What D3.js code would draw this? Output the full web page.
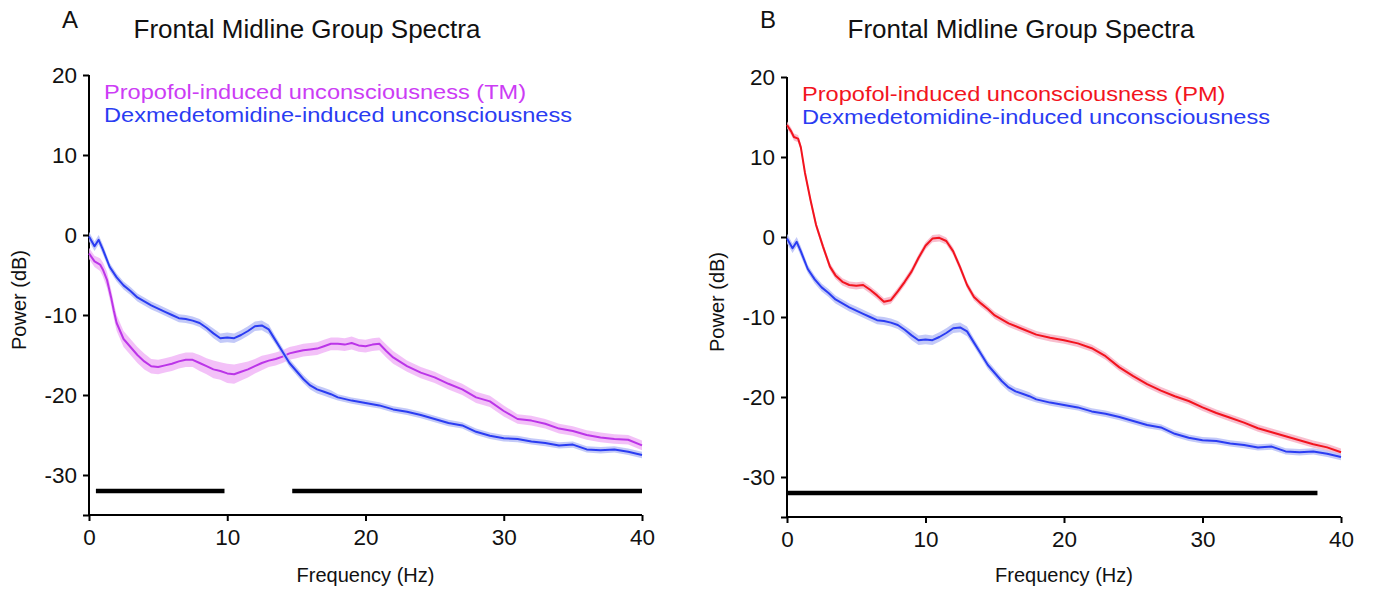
<!DOCTYPE html>
<html>
<head>
<meta charset="utf-8">
<script src="https://cdn.jsdelivr.net/npm/d3@7"></script>
<style>
  body { margin: 0; background: #fff; }
  svg text { font-family: "Liberation Sans", Arial, Helvetica, sans-serif; }
</style>
</head>
<body>
<div id="chart"></div>
<script>
const width = 1373;
const height = 589;

// Dexmedetomidine group spectrum (same curve in both panels)
const dexFreq = [0, 0.4, 0.7, 1, 1.5, 2, 2.5, 3, 3.5, 4, 4.5, 5, 5.5, 6, 6.5, 7, 7.5, 8, 8.5, 9, 9.5, 10, 10.5, 11, 11.5, 12, 12.5, 13, 13.5, 14, 14.5, 15, 15.5, 16, 16.5, 17, 17.5, 18, 19, 20, 21, 22, 23, 24, 25, 26, 27, 28, 29, 30, 31, 32, 33, 34, 35, 36, 37, 38, 39, 40];
const dexPower = [-0.2, -1.4, -0.6, -1.8, -4.0, -5.3, -6.3, -7.0, -7.8, -8.3, -8.8, -9.2, -9.6, -10.0, -10.4, -10.5, -10.7, -11.0, -11.6, -12.3, -12.9, -12.8, -12.9, -12.5, -12.0, -11.4, -11.3, -11.8, -13.2, -14.6, -16.0, -17.0, -18.0, -18.8, -19.3, -19.6, -19.9, -20.3, -20.7, -21.0, -21.3, -21.8, -22.1, -22.5, -23.0, -23.5, -23.8, -24.6, -25.1, -25.4, -25.5, -25.8, -26.0, -26.3, -26.2, -26.8, -26.9, -26.8, -27.1, -27.5];
const dexSem = [0.6, 0.6, 0.6, 0.6, 0.5, 0.5, 0.5, 0.5, 0.5, 0.5, 0.5, 0.5, 0.5, 0.5, 0.5, 0.5, 0.5, 0.5, 0.5, 0.6, 0.6, 0.6, 0.6, 0.6, 0.6, 0.6, 0.6, 0.6, 0.5, 0.5, 0.5, 0.5, 0.5, 0.5, 0.5, 0.5, 0.5, 0.4, 0.4, 0.4, 0.4, 0.4, 0.4, 0.4, 0.4, 0.4, 0.4, 0.4, 0.4, 0.4, 0.4, 0.4, 0.4, 0.4, 0.4, 0.4, 0.4, 0.4, 0.4, 0.4];

// Propofol, TM group (panel A)
const tmFreq = [0, 0.4, 0.8, 1, 1.3, 1.6, 1.8, 2, 2.5, 3, 3.5, 4, 4.5, 5, 5.5, 6, 6.5, 7, 7.5, 8, 8.5, 9, 9.5, 10, 10.5, 11, 11.5, 12, 12.5, 13, 13.5, 14, 14.5, 15, 15.5, 16, 16.5, 17, 17.5, 18, 18.5, 19, 19.5, 20, 20.5, 21, 21.5, 22, 23, 24, 25, 26, 27, 28, 29, 30, 31, 32, 33, 34, 35, 36, 37, 38, 39, 40];
const tmPower = [-2.3, -3.3, -3.7, -4.3, -5.6, -7.8, -9.5, -11.0, -13.0, -14.0, -15.0, -15.8, -16.4, -16.5, -16.3, -16.1, -15.8, -15.6, -15.6, -16.0, -16.4, -16.8, -17.0, -17.3, -17.4, -17.1, -16.8, -16.4, -16.0, -15.7, -15.5, -15.2, -14.8, -14.6, -14.4, -14.3, -14.2, -13.9, -13.6, -13.6, -13.7, -13.5, -13.8, -13.9, -13.7, -13.6, -14.5, -15.3, -16.4, -17.2, -17.8, -18.6, -19.3, -20.3, -20.8, -22.0, -23.0, -23.2, -23.6, -24.2, -24.5, -25.0, -25.3, -25.5, -25.6, -26.3];
const tmSem = [0.7, 0.7, 0.8, 0.9, 1.0, 1.0, 1.0, 1.0, 1.0, 1.0, 1.0, 1.0, 0.9, 0.9, 0.9, 0.9, 0.9, 0.9, 0.9, 1.0, 1.0, 1.1, 1.1, 1.2, 1.2, 1.1, 1.0, 0.9, 0.9, 0.8, 0.8, 0.8, 0.8, 0.8, 0.8, 0.8, 0.8, 0.8, 0.8, 0.8, 0.8, 0.8, 0.8, 0.8, 0.8, 0.8, 0.8, 0.8, 0.7, 0.7, 0.7, 0.7, 0.7, 0.7, 0.7, 0.7, 0.6, 0.6, 0.6, 0.6, 0.6, 0.6, 0.6, 0.6, 0.6, 0.6];

// Propofol, PM group (panel B)
const pmFreq = [0, 0.3, 0.5, 0.8, 1, 1.3, 1.7, 2.1, 2.6, 3.1, 3.5, 4, 4.5, 5, 5.5, 6, 6.5, 7, 7.5, 8, 8.5, 9, 9.5, 10, 10.5, 11, 11.5, 12, 12.5, 13, 13.5, 14, 14.5, 15, 16, 17, 18, 19, 20, 21, 22, 23, 24, 25, 26, 27, 28, 29, 30, 31, 32, 33, 34, 35, 36, 37, 38, 39, 40];
const pmPower = [14.0, 13.2, 12.5, 12.3, 11.2, 8.0, 4.6, 1.5, -1.2, -3.7, -4.8, -5.6, -6.0, -6.1, -6.0, -6.6, -7.3, -8.1, -7.9, -6.8, -5.6, -4.3, -2.6, -1.1, -0.2, -0.1, -0.5, -1.8, -3.8, -6.0, -7.5, -8.3, -9.0, -9.8, -10.8, -11.5, -12.2, -12.6, -12.9, -13.3, -13.9, -14.9, -16.3, -17.4, -18.4, -19.2, -19.9, -20.5, -21.3, -22.0, -22.6, -23.2, -23.9, -24.4, -24.9, -25.4, -25.9, -26.3, -26.9];
const pmSem = 0.45;

// significance bars, [from Hz, to Hz]
const sigBarsA = [[0.5, 9.8], [14.7, 40]];
const sigBarsB = [[0, 38.3]];
const sigLevel = -32;

const yTicks = [20, 10, 0, -10, -20, -30, -35];
const xTicks = [0, 10, 20, 30, 40];

const colDex = "#2a3cf2", bandDex = "#b9bff7";
const colTM = "#bb35e8", bandTM = "#f1b6f7";
const colPM = "#f2141e", bandPM = "#f7b3c6";

const svg = d3.select("#chart").append("svg")
    .attr("width", width)
    .attr("height", height);

function toRows(freq, power, sem) {
    return freq.map((f, i) => ({
        f: f,
        p: power[i],
        s: Array.isArray(sem) ? sem[i] : sem
    }));
}

function drawPanel(opts) {
    const x = d3.scaleLinear().domain([0, 40]).range([opts.left, opts.right]);
    const y = d3.scaleLinear().domain([-35, 20]).range([opts.bottom, opts.top]);
    const g = svg.append("g");

    // y axis
    const yAxis = g.append("g")
        .attr("transform", `translate(${opts.left},0)`)
        .call(d3.axisLeft(y).tickValues(yTicks).tickSize(6).tickPadding(6)
            .tickFormat(d => d === -35 ? "" : d));
    // x axis
    const xAxis = g.append("g")
        .attr("transform", `translate(0,${opts.bottom})`)
        .call(d3.axisBottom(x).tickValues(xTicks).tickSize(6).tickPadding(8));
    [yAxis, xAxis].forEach(a => {
        a.select(".domain").attr("stroke", "#000").attr("stroke-width", 2);
        a.selectAll(".tick line").attr("stroke", "#000").attr("stroke-width", 2);
        a.selectAll(".tick text").attr("fill", "#111").style("font-size", "22.5px");
    });
    yAxis.select(".domain").attr("d", `M-0,${y(20)}H0V${y(-35)}`);
    xAxis.select(".domain").attr("d", `M${x(0)},0H${x(40)}`);

    // curves with shaded error band
    opts.series.forEach(s => {
        const area = d3.area().x(d => x(d.f)).y0(d => y(d.p - d.s)).y1(d => y(d.p + d.s));
        const line = d3.line().x(d => x(d.f)).y(d => y(d.p));
        g.append("path").datum(s.rows).attr("d", area)
            .attr("fill", s.band).attr("opacity", 0.85);
        g.append("path").datum(s.rows).attr("d", line)
            .attr("fill", "none").attr("stroke", s.color).attr("stroke-width", 2)
            .attr("stroke-linejoin", "round");
    });

    // significance bars
    g.selectAll(".sig").data(opts.bars).enter().append("line")
        .attr("x1", d => x(d[0])).attr("x2", d => x(d[1]))
        .attr("y1", y(sigLevel)).attr("y2", y(sigLevel))
        .attr("stroke", "#000").attr("stroke-width", 4.5);

    // legend (text in the figure is horizontally stretched)
    opts.series.forEach((s, i) => {
        g.append("text")
            .attr("transform", `translate(${opts.left + 15},${opts.top + 24 + i * 23}) scale(1.18,1)`)
            .attr("fill", s.text).style("font-size", "20px")
            .text(s.label);
    });

    // titles and labels
    g.append("text").attr("x", opts.titleX).attr("y", 38)
        .attr("text-anchor", "middle").style("font-size", "26px").attr("fill", "#111")
        .text("Frontal Midline Group Spectra");
    g.append("text").attr("x", opts.left - 27).attr("y", 28)
        .style("font-size", "24px").attr("fill", "#111").text(opts.letter);
    g.append("text").attr("x", (opts.left + opts.right) / 2).attr("y", 582)
        .attr("text-anchor", "middle").style("font-size", "20px").attr("fill", "#111")
        .text("Frequency (Hz)");
    g.append("text")
        .attr("transform", `translate(${opts.left - 63},${(opts.top + opts.bottom) / 2 + 5}) rotate(-90)`)
        .attr("text-anchor", "middle").style("font-size", "20px").attr("fill", "#111")
        .text("Power (dB)");
}

const dexRows = toRows(dexFreq, dexPower, dexSem);

drawPanel({
    left: 89, right: 642, top: 75, bottom: 515, titleX: 307, letter: "A",
    bars: sigBarsA,
    series: [
        { rows: toRows(tmFreq, tmPower, tmSem), color: colTM, band: bandTM, text: "#cc3cf5",
          label: "Propofol-induced unconsciousness (TM)" },
        { rows: dexRows, color: colDex, band: bandDex, text: "#2a3cf2",
          label: "Dexmedetomidine-induced unconsciousness" }
    ]
});

drawPanel({
    left: 787, right: 1341, top: 77, bottom: 517, titleX: 1021, letter: "B",
    bars: sigBarsB,
    series: [
        { rows: toRows(pmFreq, pmPower, pmSem), color: colPM, band: bandPM, text: "#f2141e",
          label: "Propofol-induced unconsciousness (PM)" },
        { rows: dexRows, color: colDex, band: bandDex, text: "#2a3cf2",
          label: "Dexmedetomidine-induced unconsciousness" }
    ]
});
</script>
</body>
</html>
